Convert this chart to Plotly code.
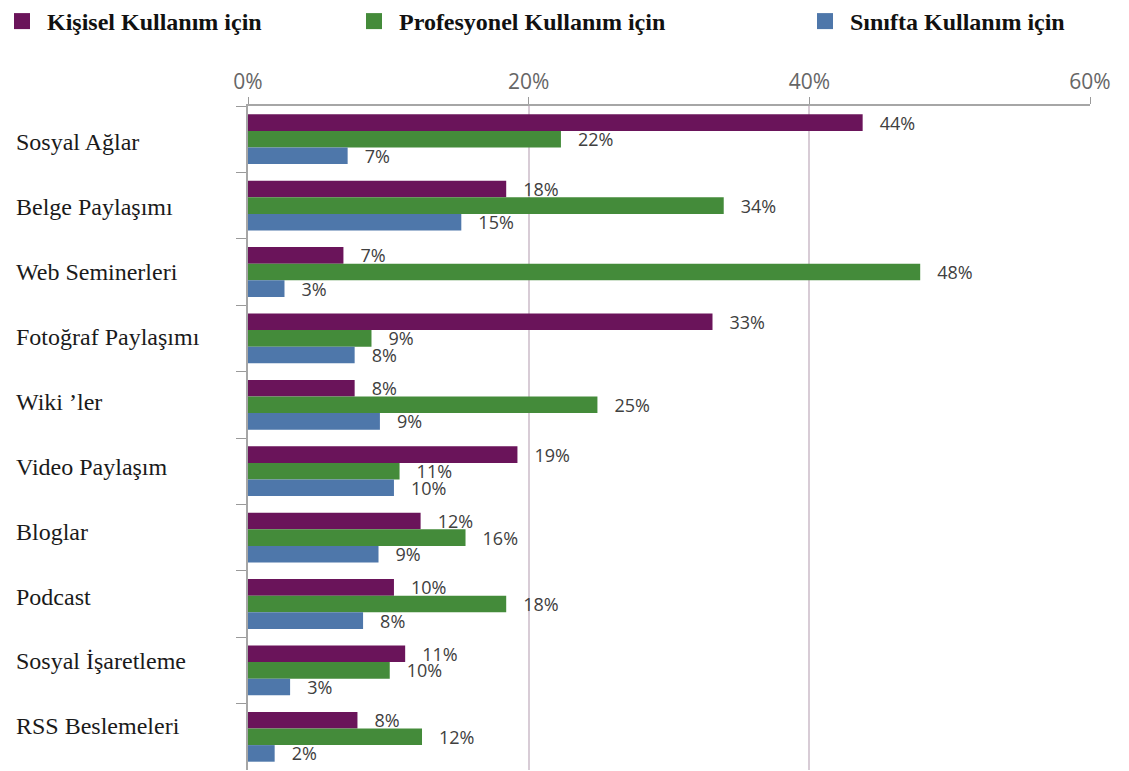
import plotly.graph_objects as go

categories = ["Sosyal Ağlar", "Belge Paylaşımı", "Web Seminerleri", "Fotoğraf Paylaşımı",
              "Wiki ’ler", "Video Paylaşım", "Bloglar", "Podcast",
              "Sosyal İşaretleme", "RSS Beslemeleri"]
kisisel = [43.8, 18.4, 6.8, 33.1, 7.6, 19.2, 12.3, 10.4, 11.2, 7.8]
profesyonel = [22.3, 33.9, 47.9, 8.8, 24.9, 10.8, 15.5, 18.4, 10.1, 12.4]
sinifta = [7.1, 15.2, 2.6, 7.6, 9.4, 10.4, 9.3, 8.2, 3.0, 1.9]

series_names = ["Kişisel Kullanım için", "Profesyonel Kullanım için", "Sınıfta Kullanım için"]
series_values = [kisisel, profesyonel, sinifta]
colors = ["#6A145A", "#448B3A", "#4E77AA"]
x_ticks = [0, 20, 40, 60]
x_ticktext = ["0%", "20%", "40%", "60%"]

# page body has an 8px margin; figure coordinates = screen - 8
OFF = 8
W, H = 1129 - OFF, 771 - OFF
L, R, T, B = 248 - OFF, 39, 106 - OFF, 1
pw, ph = W - L - R, H - T - B

fig = go.Figure()
for name, vals, col in zip(series_names, series_values, colors):
    fig.add_trace(go.Bar(
        y=categories, x=vals, orientation="h", name=name,
        marker=dict(color=col, line=dict(width=0)),
        texttemplate="\u00a0\u00a0\u00a0%{x:.0f}%", textposition="outside",
        textfont=dict(family="Open Sans", size=18, color="#404040"),
        cliponaxis=False, constraintext="none", showlegend=False,
    ))

legend_px = [-11, 341, 792]
for i, (name, col) in enumerate(zip(series_names, colors)):
    lg = "legend" if i == 0 else f"legend{i+1}"
    fig.add_trace(go.Scatter(
        x=[None], y=[None], mode="markers", name=name,
        marker=dict(symbol="square", size=18, color=col),
        legend=lg, showlegend=True,
    ))

legend_style = dict(
    orientation="h", yanchor="top", xanchor="left",
    font=dict(family="Liberation Serif", size=24, color="#111111", weight="bold"),
    bgcolor="rgba(0,0,0,0)", itemsizing="trace", itemwidth=40,
)
layout_legends = {}
for i, px in enumerate(legend_px):
    lg = "legend" if i == 0 else f"legend{i+1}"
    layout_legends[lg] = dict(legend_style, x=(px - L) / pw, y=1 + (T + 9) / ph)

for i, c in enumerate(categories):
    fig.add_annotation(
        x=(17 - OFF - L) / pw - 0.004, xref="paper", y=c, yref="y", text=c, showarrow=False,
        xanchor="left", yanchor="middle", yshift=-3 + 1.5 * i,
        font=dict(family="Liberation Serif", size=24, color="#1a1a1a"),
    )

fig.update_layout(
    width=W, height=H, margin=dict(l=L, r=R, t=T, b=B, autoexpand=False),
    plot_bgcolor="white", paper_bgcolor="white",
    barmode="group", bargap=0.25, bargroupgap=0,
    xaxis=dict(
        side="top", range=[0, 60], tickvals=x_ticks, ticktext=x_ticktext,
        ticks="outside", ticklen=7, tickcolor="#9a9a9a",
        showline=True, linecolor="#a6a6a6", linewidth=2,
        showgrid=True, gridcolor="#d8ccd6", gridwidth=2, zeroline=False,
        tickfont=dict(family="Open Sans", size=21, color="#666666"),
    ),
    yaxis=dict(
        autorange="reversed", showticklabels=False,
        ticks="outside", tickson="boundaries", ticklen=10, tickcolor="#9a9a9a",
        showline=True, linecolor="#a6a6a6", linewidth=2, showgrid=False,
    ),
    **layout_legends,
)

fig.write_html("out.html")
